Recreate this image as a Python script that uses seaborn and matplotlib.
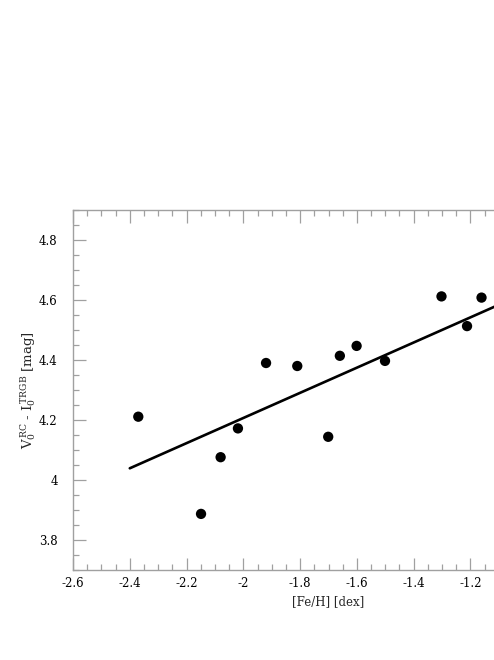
import numpy as np
import pandas as pd
import matplotlib
matplotlib.use("Agg")
import matplotlib.pyplot as plt
from matplotlib.ticker import MultipleLocator
import seaborn as sns

# values
feh = [-2.370, -2.149, -2.080, -2.019, -1.920, -1.810, -1.701,
       -1.660, -1.601, -1.501, -1.302, -1.212, -1.161]
dmag = [4.211, 3.887, 4.076, 4.172, 4.390, 4.380, 4.144,
        4.414, 4.447, 4.397, 4.612, 4.513, 4.608]

fit_x = [-2.4, -1.0]
fit_y = [4.039, 4.626]

x_ticks = [-2.6, -2.4, -2.2, -2.0, -1.8, -1.6, -1.4, -1.2]
x_labels = ["-2.6", "-2.4", "-2.2", "-2", "-1.8", "-1.6", "-1.4", "-1.2"]
y_ticks = [3.8, 4.0, 4.2, 4.4, 4.6, 4.8]
y_labels = ["3.8", "4", "4.2", "4.4", "4.6", "4.8"]

sns.set_style("ticks")
plt.rcParams["font.family"] = ["DejaVu Serif"]
plt.rcParams["mathtext.fontset"] = "dejavuserif"

points = pd.DataFrame({"feh": feh, "dmag": dmag})
fit = pd.DataFrame({"feh": fit_x, "dmag": fit_y})

fig = plt.figure(figsize=(4.94, 6.6), dpi=100)
# axes runs past the right edge of the figure, as in the reference crop
ax = fig.add_axes([73 / 494, 90 / 660, 511 / 494, 360 / 660])

sns.lineplot(data=fit, x="feh", y="dmag", ax=ax, color="black", linewidth=1.9)
sns.scatterplot(data=points, x="feh", y="dmag", ax=ax, color="black",
                s=55, edgecolor="none", zorder=3)

ax.set_xlim(-2.6, -0.8)
ax.set_ylim(3.7, 4.9)
ax.set_xticks(x_ticks)
ax.set_xticklabels(x_labels)
ax.set_yticks(y_ticks)
ax.set_yticklabels(y_labels)
ax.xaxis.set_minor_locator(MultipleLocator(0.05))
ax.yaxis.set_minor_locator(MultipleLocator(0.05))

grey = "#a0a0a0"
for side in ["left", "bottom", "top", "right"]:
    ax.spines[side].set_color(grey)
    ax.spines[side].set_linewidth(1.0)
ax.tick_params(which="both", direction="in", top=True, right=True, color=grey,
               width=0.9, labelsize=8.5, labelcolor="black")
ax.tick_params(which="major", length=9)
ax.tick_params(which="minor", length=4.5)
ax.tick_params(axis="y", which="major", pad=11)
ax.tick_params(axis="x", which="major", pad=5)

ax.set_xlabel("[Fe/H] [dex]", fontsize=8.5, labelpad=4)
ax.set_ylabel(r"V$_0^{\,\mathrm{RC}}$ - I$_0^{\,\mathrm{TRGB}}$ [mag]",
              fontsize=9.5, labelpad=1)

fig.savefig("out.png", dpi=100, facecolor="white")
